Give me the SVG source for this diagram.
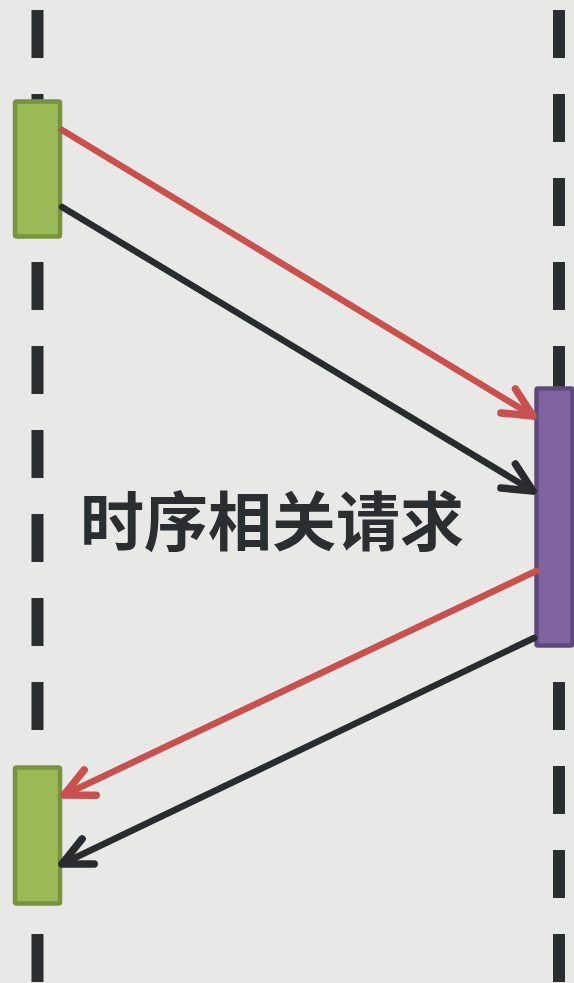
<svg xmlns="http://www.w3.org/2000/svg" width="574" height="983" viewBox="0 0 574 983">
<style>
.life{stroke:#2a2e31;stroke-width:12;stroke-dasharray:48 36;fill:none}
.act-g{fill:#9bbb59;stroke:#77933c;stroke-width:4.5}
.act-p{fill:#8064a2;stroke:#5f497a;stroke-width:4.5}
.red{stroke:#c8504e;stroke-width:6.5;fill:none;stroke-linecap:round}
.blk{stroke:#282c2f;stroke-width:6.5;fill:none;stroke-linecap:round}
.lbl{font-family:"Noto Sans CJK SC","Noto Sans",sans-serif;font-weight:bold;font-size:64px;fill:#2a2e31}
</style>
<defs>
<marker id="arR" markerUnits="userSpaceOnUse" viewBox="-40 -20 44 40" markerWidth="44" markerHeight="40" refX="0" refY="0" orient="auto" overflow="visible">
<path d="M-29,-14 L0,0 L-29,14" fill="none" stroke="#c8504e" stroke-width="7.5" stroke-linecap="round" stroke-linejoin="round"/>
</marker>
<marker id="arK" markerUnits="userSpaceOnUse" viewBox="-40 -20 44 40" markerWidth="44" markerHeight="40" refX="0" refY="0" orient="auto" overflow="visible">
<path d="M-29,-14 L0,0 L-29,14" fill="none" stroke="#282c2f" stroke-width="7.5" stroke-linecap="round" stroke-linejoin="round"/>
</marker>
</defs>
<rect width="574" height="983" fill="#e8e8e6"/>
<g id="lifelines">
<line class="life" x1="37.5" y1="10" x2="37.5" y2="983"/>
<line class="life" x1="559" y1="10" x2="559" y2="983"/>
</g>
<g id="activation-top-left"><rect class="act-g" x="15" y="101.5" width="45" height="135" rx="1.5"/></g>
<g id="activation-right"><rect class="act-p" x="536.5" y="388.5" width="36" height="257" rx="1.5"/></g>
<g id="activation-bottom-left"><rect class="act-g" x="15" y="767.5" width="45" height="136" rx="1.5"/></g>
<g id="connectors">
<line class="red" x1="62" y1="130" x2="533" y2="416" marker-end="url(#arR)"/>
<line class="blk" x1="62" y1="207" x2="533" y2="491" marker-end="url(#arK)"/>
<line class="red" x1="536" y1="571" x2="64" y2="795" marker-end="url(#arR)"/>
<line class="blk" x1="534" y1="638" x2="62" y2="864" marker-end="url(#arK)"/>
</g>
<g id="label"><text class="lbl" x="272" y="545" text-anchor="middle">时序相关请求</text></g>
</svg>
